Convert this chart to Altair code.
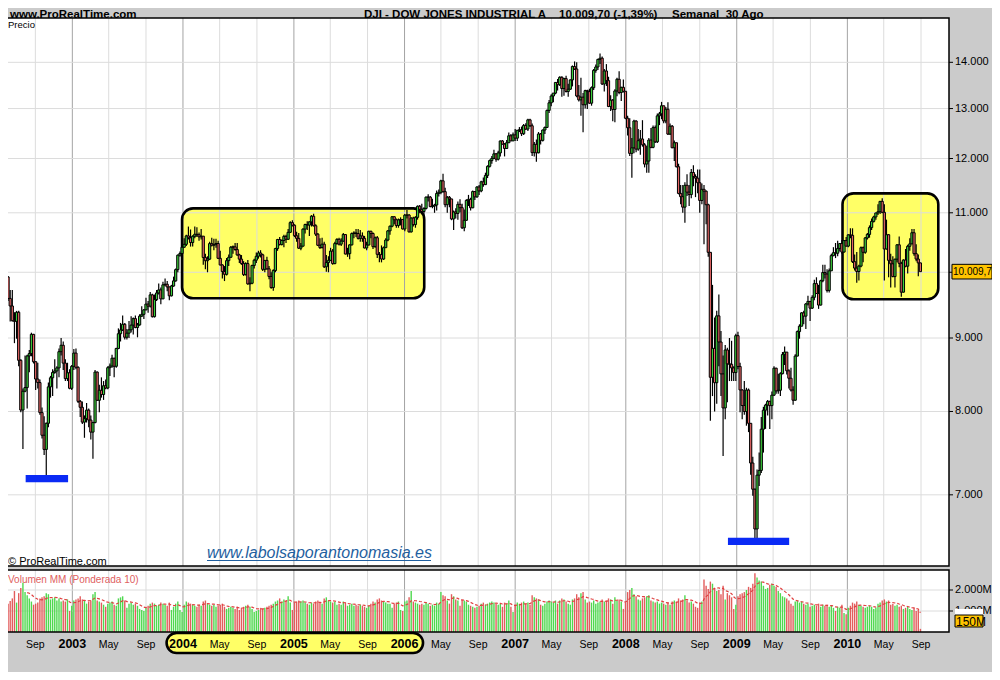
import altair as alt
import numpy as np
import pandas as pd

# Weekly DJI bars (week starting Monday), Jun 2002 - 30 Aug 2010
FIRST_OPEN = 9925

close = [
    # 2002
    9589, 9474, 9253, 9243, 9379, 8684, 8019, 8264, 8313, 8745, 8778, 9053, 8664, 8427, 8380, 7986,
    7701, 7528, 7850, 8322, 8444, 8517, 8537, 8579, 8805, 8896, 8645, 8433, 8512, 8303, 8601,
    # 2003
    8785, 8587, 8131, 8054, 7865, 7909, 8018, 7891, 7740, 7859, 8522, 8145, 8277, 8221, 8337, 8307,
    8582, 8604, 8713, 8601, 8850, 9062, 9117, 9200, 9011, 9070, 9119, 9188, 9284, 9153, 9191, 9321,
    9348, 9415, 9503, 9471, 9644, 9313, 9572, 9674, 9721, 9582, 9801, 9810, 9768, 9629, 9782, 9863,
    10042, 10278, 10305, 10409,
    # 2004
    10458, 10600, 10568, 10488, 10593, 10628, 10620, 10584, 10596, 10240, 10187, 10213, 10470, 10443,
    10452, 10472, 10226, 10118, 10013, 9967, 10188, 10243, 10410, 10416, 10371, 10282, 10213, 10140,
    9962, 10140, 9815, 9825, 10110, 10195, 10260, 10314, 10284, 10047, 10192, 10055, 9933, 9758,
    10027, 10387, 10539, 10456, 10522, 10592, 10543, 10661, 10828, 10783,
    # 2005
    10603, 10558, 10393, 10427, 10716, 10796, 10785, 10841, 10940, 10774, 10630, 10442, 10404, 10461,
    10088, 10157, 10193, 10345, 10140, 10471, 10542, 10460, 10512, 10623, 10297, 10303, 10449, 10640,
    10651, 10641, 10558, 10600, 10559, 10397, 10447, 10679, 10641, 10419, 10569, 10292, 10287, 10215,
    10402, 10530, 10686, 10766, 10931, 10878, 10778, 10876, 10883, 10718,
    # 2006
    10959, 10960, 10668, 10908, 10794, 10920, 11116, 11062, 11022, 11077, 11280, 11280, 11110, 11120,
    11138, 11347, 11367, 11578, 11380, 11144, 11278, 11247, 10892, 11015, 10989, 11150, 11091, 10739,
    10868, 11220, 11240, 11089, 11381, 11284, 11465, 11392, 11560, 11508, 11679, 11851, 11960, 12002,
    12090, 11986, 12108, 12342, 12280, 12194, 12307, 12445, 12343, 12463,
    # 2007
    12398, 12556, 12565, 12487, 12653, 12580, 12767, 12647, 12114, 12276, 12110, 12481, 12354, 12560,
    12612, 12961, 13120, 13264, 13326, 13556, 13507, 13668, 13424, 13639, 13360, 13409, 13611, 13907,
    13851, 13265, 13182, 13240, 13079, 13379, 13358, 13113, 13442, 13821, 13896, 14066, 14093, 13522,
    13807, 13595, 13042, 13177, 12981, 13372, 13625, 13339, 13450, 13366, 12800,
    # 2008
    12606, 12099, 12207, 12743, 12182, 12348, 12381, 12266, 11894, 11951, 12361, 12216, 12609, 12325,
    12849, 12891, 13058, 12745, 12986, 12479, 12638, 12209, 12307, 11843, 11347, 11288, 11100, 11496,
    11370, 11326, 11734, 11659, 11628, 11543, 11220, 11422, 11388, 11143, 10325, 8451, 8852, 8378,
    9325, 8943, 8497, 8046, 8829, 8635, 8629, 8579, 8515, 9034,
    # 2009
    8599, 8281, 8077, 8000, 8280, 7850, 7366, 7063, 6627, 7224, 7279, 7776, 8017, 8083, 8131, 8076,
    8212, 8575, 8268, 8277, 8500, 8764, 8799, 8539, 8438, 8280, 8146, 8743, 9093, 9172, 9370, 9321,
    9505, 9544, 9441, 9606, 9820, 9665, 9488, 9865, 9996, 9972, 9713, 10023, 10270, 10318, 10310,
    10389, 10471, 10329, 10521, 10428,
    # 2010
    10618, 10610, 10172, 10067, 10012, 10099, 10402, 10325, 10566, 10625, 10742, 10850, 10927, 10997,
    11019, 11204, 11009, 10380, 10620, 10193, 10137, 9931, 10212, 10450, 10144, 9686, 10198, 10098,
    10425, 10466, 10654, 10303, 10214, 10151, 10009.7,
]

high = [
    # 2002
    9940, 9720, 9720, 9380, 9400, 9400, 8700, 8300, 8750, 8760, 8830, 9077, 9060, 8670, 8650, 8420,
    8050, 7940, 7860, 8380, 8470, 8560, 8700, 8600, 8850, 9000, 8950, 8700, 8650, 8560, 8620,
    # 2003
    8842, 8850, 8600, 8150, 8130, 7950, 8110, 8040, 7950, 7870, 8550, 8530, 8350, 8450, 8400, 8420,
    8600, 8640, 8760, 8720, 8860, 9140, 9220, 9330, 9220, 9130, 9250, 9320, 9300, 9330, 9220, 9350,
    9470, 9430, 9600, 9550, 9690, 9660, 9650, 9720, 9820, 9760, 9850, 9900, 9860, 9770, 9800, 9930,
    10060, 10290, 10340, 10460,
    # 2004
    10560, 10620, 10760, 10710, 10610, 10760, 10750, 10660, 10720, 10600, 10300, 10260, 10500, 10570,
    10550, 10550, 10520, 10350, 10130, 10100, 10230, 10290, 10430, 10440, 10480, 10480, 10300, 10280,
    10180, 10160, 10200, 9920, 10120, 10220, 10320, 10350, 10360, 10300, 10200, 10250, 10100, 10000,
    10050, 10400, 10550, 10580, 10540, 10620, 10620, 10720, 10850, 10870,
    # 2005
    10800, 10670, 10650, 10480, 10730, 10810, 10850, 10850, 10960, 10985, 10800, 10650, 10560, 10570,
    10500, 10280, 10260, 10400, 10380, 10500, 10560, 10570, 10560, 10650, 10630, 10400, 10460, 10660,
    10680, 10720, 10720, 10700, 10660, 10600, 10500, 10690, 10690, 10660, 10590, 10600, 10330, 10440,
    10420, 10560, 10700, 10780, 10940, 10940, 10900, 10900, 10920, 10890,
    # 2006
    10980, 11050, 10980, 10920, 10930, 10940, 11130, 11140, 11160, 11100, 11290, 11330, 11300, 11250,
    11160, 11400, 11420, 11600, 11709, 11450, 11300, 11300, 11250, 11040, 11080, 11200, 11240, 11160,
    11060, 11240, 11320, 11270, 11400, 11390, 11480, 11500, 11580, 11640, 11730, 11870, 11980, 12050,
    12170, 12100, 12150, 12350, 12360, 12300, 12360, 12510, 12480, 12510,
    # 2007
    12580, 12560, 12620, 12630, 12680, 12700, 12790, 12790, 12690, 12320, 12370, 12520, 12500, 12570,
    12630, 12980, 13180, 13300, 13330, 13560, 13630, 13690, 13690, 13660, 13700, 13530, 13620, 13930,
    14020, 14000, 13500, 13660, 13330, 13400, 13400, 13420, 13470, 13850, 13950, 14080, 14198, 14130,
    13850, 13960, 13680, 13280, 13200, 13410, 13660, 13800, 13460, 13620, 13370,
    # 2008
    12850, 12800, 12400, 12770, 12760, 12580, 12560, 12760, 12300, 12250, 12400, 12600, 12650, 12650,
    12900, 12930, 13140, 13060, 13030, 13130, 12690, 12660, 12350, 12310, 11900, 11500, 11500, 11550,
    11700, 11500, 11800, 11870, 11700, 11790, 11790, 11530, 11500, 11400, 11160, 10330, 9800, 9300,
    9400, 9650, 9100, 8750, 8900, 8860, 9000, 8960, 8600, 9060,
    # 2009
    9090, 8650, 8290, 8400, 8310, 8300, 7850, 7440, 7070, 7290, 7490, 7930, 8060, 8100, 8150, 8140,
    8260, 8600, 8580, 8500, 8520, 8800, 8880, 8800, 8560, 8580, 8330, 8770, 9110, 9200, 9380, 9400,
    9520, 9630, 9550, 9640, 9880, 9920, 9800, 9880, 10120, 10120, 10050, 10060, 10300, 10410, 10480,
    10520, 10480, 10530, 10530, 10580,
    # 2010
    10630, 10730, 10730, 10290, 10330, 10120, 10420, 10420, 10580, 10650, 10780, 10900, 10950, 11000,
    11150, 11210, 11258, 11150, 10880, 10630, 10300, 10260, 10220, 10460, 10590, 10170, 10210, 10380,
    10450, 10560, 10720, 10720, 10460, 10290, 10155,
]

low = [
    # 2002
    9550, 9240, 9240, 8926, 8990, 8600, 7990, 7532, 8250, 8040, 8520, 8740, 8640, 8280, 8300, 7960,
    7660, 7460, 7197, 7800, 8180, 8200, 8500, 8300, 8450, 8750, 8550, 8400, 8400, 8290, 8280,
    # 2003
    8550, 8560, 8110, 7930, 7840, 7670, 7860, 7800, 7650, 7416, 7850, 8140, 7990, 8180, 8150, 8290,
    8290, 8470, 8580, 8450, 8580, 8840, 8950, 9100, 8980, 8980, 9000, 9080, 9050, 9140, 9010, 9180,
    9310, 9280, 9410, 9370, 9450, 9300, 9300, 9550, 9650, 9500, 9580, 9780, 9700, 9560, 9620, 9770,
    9850, 10000, 10250, 10300,
    # 2004
    10400, 10430, 10540, 10420, 10420, 10560, 10580, 10520, 10540, 10120, 10050, 10000, 10200, 10420,
    10360, 10400, 10220, 10110, 9900, 9860, 9950, 10100, 10240, 10300, 10350, 10270, 10150, 10120,
    9940, 9950, 9800, 9700, 9810, 10060, 10150, 10220, 10240, 10020, 10000, 10040, 9890, 9740,
    9708, 10000, 10350, 10440, 10440, 10410, 10480, 10530, 10650, 10760,
    # 2005
    10580, 10500, 10380, 10360, 10420, 10640, 10700, 10600, 10760, 10760, 10600, 10430, 10380, 10390,
    10070, 10010, 10000, 10180, 10120, 10130, 10450, 10440, 10430, 10500, 10290, 10250, 10210, 10440,
    10560, 10580, 10540, 10500, 10500, 10390, 10360, 10440, 10560, 10380, 10400, 10230, 10160, 10160,
    10200, 10400, 10510, 10620, 10750, 10800, 10740, 10740, 10780, 10710,
    # 2006
    10680, 10900, 10660, 10660, 10760, 10740, 10880, 10990, 10980, 10930, 11060, 11200, 11100, 11080,
    11000, 11040, 11290, 11330, 11360, 11100, 11000, 11100, 10870, 10700, 10900, 10880, 11010, 10720,
    10680, 10860, 11120, 11040, 11080, 11230, 11270, 11320, 11370, 11470, 11500, 11630, 11830, 11900,
    11990, 11940, 11960, 12040, 12270, 12040, 12190, 12300, 12340, 12340,
    # 2007
    12340, 12340, 12520, 12440, 12460, 12560, 12540, 12620, 12050, 12040, 11940, 12100, 12270, 12330,
    12480, 12610, 12910, 13050, 13130, 13300, 13380, 13480, 13250, 13270, 13340, 13250, 13400, 13470,
    13830, 13240, 13150, 12850, 12518, 13000, 12990, 13100, 13060, 13390, 13770, 13830, 13960, 13500,
    13360, 13480, 13030, 12950, 12740, 12720, 13260, 13300, 13160, 13340, 12780,
    # 2008
    12450, 12050, 11635, 12100, 12120, 12150, 12070, 12230, 11830, 11730, 11730, 12200, 12200, 12300,
    12300, 12660, 12780, 12700, 12700, 12460, 12460, 12200, 11950, 11830, 11330, 11150, 11000, 10827,
    11300, 11120, 11260, 11480, 11280, 11350, 11000, 11150, 10460, 10800, 10250, 7882, 8200, 8000,
    8100, 8600, 8200, 7450, 7900, 8120, 8400, 8400, 8400, 8400,
    # 2009
    8560, 7990, 7900, 7960, 7820, 7740, 7230, 6990, 6470, 6520, 7100, 7250, 7490, 7780, 7950, 7780,
    7900, 8200, 8230, 8230, 8200, 8490, 8620, 8490, 8300, 8260, 8087, 8140, 8740, 8990, 9170, 9200,
    9130, 9480, 9250, 9430, 9560, 9660, 9430, 9480, 9840, 9900, 9680, 9680, 10020, 10260, 10230,
    10260, 10340, 10300, 10320, 10420,
    # 2010
    10410, 10560, 10150, 10030, 9835, 9870, 10080, 10160, 10300, 10540, 10570, 10700, 10830, 10880,
    10960, 10980, 10990, 9870, 10370, 9920, 9760, 9920, 9757, 10160, 10080, 9614, 9680, 10080,
    9980, 10350, 10460, 10270, 10180, 9936, 10009,
]

# weekly volume, millions of shares
volume = [
    # 2002
    1350, 1480, 1600, 1950, 1400, 1850, 2100, 2350, 1900, 1750, 1600, 1450, 1300, 1350, 1400, 1600,
    1650, 1700, 1850, 1800, 1550, 1600, 1650, 1500, 1600, 1450, 1500, 1450, 1550, 1000, 1250,
    # 2003
    1500, 1550, 1600, 1700, 1550, 1500, 1350, 1450, 1500, 1800, 1900, 1500, 1450, 1400, 1300, 1200,
    1350, 1400, 1450, 1300, 1250, 1600, 1650, 1700, 1500, 1150, 1350, 1400, 1300, 1350, 1250, 1100,
    1050, 1000, 1150, 1250, 1350, 1400, 1350, 1250, 1300, 1400, 1350, 1300, 1250, 1400, 1050, 1200,
    1350, 1450, 1050, 950,
    # 2004
    1300, 1450, 1400, 1350, 1300, 1250, 1200, 1300, 1250, 1450, 1500, 1350, 1300, 1250, 1300, 1200,
    1250, 1300, 1350, 1200, 1100, 1150, 1200, 1150, 1100, 1200, 1050, 1150, 1200, 1250, 1300, 1200,
    1100, 950, 1000, 1050, 1150, 1100, 1150, 1200, 1250, 1300, 1350, 1450, 1500, 1600, 1450, 1550,
    1500, 1700, 1400, 1050,
    # 2005
    1400, 1450, 1500, 1450, 1500, 1400, 1350, 1300, 1400, 1350, 1450, 1500, 1400, 1350, 1600, 1650,
    1500, 1450, 1400, 1450, 1300, 1350, 1300, 1450, 1400, 1250, 1300, 1350, 1250, 1300, 1250, 1300,
    1250, 1200, 1150, 1250, 1350, 1450, 1400, 1550, 1600, 1500, 1450, 1400, 1350, 1350, 1150, 1350,
    1400, 1450, 1050, 1000,
    # 2006
    1450, 1500, 1650, 1950, 1450, 1400, 1350, 1300, 1350, 1300, 1400, 1350, 1250, 1300, 1250, 1400,
    1350, 1900, 1750, 1700, 1500, 1350, 1800, 1700, 1550, 1500, 1250, 1550, 1500, 1450, 1300, 1250,
    1200, 1150, 1200, 1250, 1350, 1400, 1300, 1350, 1400, 1450, 1400, 1350, 1300, 1350, 1200, 1400,
    1350, 1500, 1200, 950,
    # 2007
    1300, 1400, 1350, 1400, 1450, 1350, 1400, 1300, 1750, 1650, 1600, 1550, 1300, 1250, 1350, 1450,
    1500, 1450, 1400, 1500, 1350, 1500, 1600, 1550, 1450, 1350, 1300, 1550, 1600, 1800, 1650, 1850,
    1900, 1550, 1400, 1450, 1400, 1500, 1350, 1400, 1450, 1550, 1450, 1500, 1600, 1550, 1350, 1650,
    1500, 1550, 1450, 1100, 1400,
    # 2008
    1900, 2000, 2100, 1800, 1700, 1550, 1500, 1600, 1650, 1700, 1750, 1500, 1450, 1400, 1450, 1350,
    1400, 1350, 1300, 1400, 1300, 1450, 1500, 1450, 1600, 1500, 1550, 1750, 1500, 1400, 1450, 1350,
    1200, 1150, 1400, 1450, 2500, 2200, 2050, 2400, 2300, 2100, 1950, 2000, 1800, 2200, 1550, 1850,
    1750, 1650, 1100, 1300,
    # 2009
    1700, 1800, 1850, 1900, 2000, 2150, 2100, 2300, 2800, 2600, 2450, 2400, 2200, 2050, 2100, 2250,
    2300, 2200, 2150, 1950, 1850, 1700, 1650, 1600, 1500, 1350, 1250, 1450, 1500, 1400, 1450, 1350,
    1300, 1350, 1200, 1250, 1300, 1250, 1350, 1200, 1300, 1250, 1300, 1200, 1250, 1150, 1000, 1200,
    1150, 1300, 900, 850,
    # 2010
    1150, 1250, 1400, 1350, 1450, 1300, 1250, 1200, 1150, 1200, 1250, 1200, 1100, 1150, 1350, 1400,
    1500, 1550, 1450, 1500, 1300, 1350, 1250, 1300, 1200, 1250, 1100, 1150, 1200, 1100, 1050, 1150,
    1000, 1050, 150,
]

PRICE_TICKS = [7000, 8000, 9000, 10000, 11000, 12000, 13000, 14000]
VOLUME_TICKS = [1000, 2000]
MONTH_NAMES = {5: "May", 9: "Sep"}

# yellow highlight boxes: start, end, bottom price, top price
boxes = [
    ("2003-12-29", "2006-03-07", 9591, 11078),
    ("2009-12-16", "2010-10-28", 9576, 11348),
]
# blue marks under the two lows
lows_marks = [
    ("2002-07-31", "2002-12-18", 7143, 7226),
    ("2008-12-03", "2009-06-23", 6458, 6535),
]
AXIS_PILL = ("2003-11-08", "2006-03-03")

GREEN = "#3ccf3c"
RED = "#e26464"
FONT = "Liberation Sans"

# ---------------------------------------------------------------
weeks = pd.date_range("2002-06-03", periods=len(close), freq="W-MON")
opens = [FIRST_OPEN] + close[:-1]
df = pd.DataFrame({
    "date": weeks.strftime("%Y-%m-%d"),
    "open": opens,
    "close": close,
    "high": high,
    "low": low,
    "volume": volume,
})
df["high"] = df[["high", "open", "close"]].max(axis=1)
df["low"] = df[["low", "open", "close"]].min(axis=1)

# weighted 10-week moving average of volume
w = np.arange(1, 11)
vol = np.array(volume, dtype=float)
df["wma"] = [np.nan] * 9 + [float(np.dot(vol[i - 9:i + 1], w) / w.sum()) for i in range(9, len(vol))]

tick_dates = pd.date_range("2002-09-01", "2010-09-01", freq="4MS")
ticks = pd.DataFrame({
    "date": tick_dates.strftime("%Y-%m-%d"),
    "label": [str(d.year) if d.month == 1 else MONTH_NAMES[d.month] for d in tick_dates],
    "year": [d.month == 1 for d in tick_dates],
})

box_df = pd.DataFrame(boxes, columns=["start", "end", "bottom", "top"])
lows_df = pd.DataFrame(lows_marks, columns=["start", "end", "bottom", "top"])
price_df = pd.DataFrame({"p": PRICE_TICKS, "label": [f"{p:,}".replace(",", ".") for p in PRICE_TICKS]})
# the 10.000 label sits under the last-price flag
price_lbl = price_df[price_df["p"] != 10000]
vol_df = pd.DataFrame({"v": VOLUME_TICKS, "label": [f"{v:,}M".replace(",", ".") for v in VOLUME_TICKS]})
last = df.iloc[-1]
last_df = pd.DataFrame({"p": [last["close"]], "top": [last["close"] * 1.0118],
                        "bottom": [last["close"] / 1.0118], "label": ["10.009,7"]})
one = pd.DataFrame({"k": [0]})

# page offset is 8px, so chart px = reference px - 8
X_SCALE = alt.Scale(type="utc", nice=False, padding=0, range=[-46.3, 950.0],
                    domain=[alt.DateTime(year=2002, month=1, date=1, utc=True),
                            alt.DateTime(year=2011, month=1, date=1, utc=True)])
Y_PRICE = alt.Scale(type="log", domain=[6000, 16000], range=[583.0, -29.0], nice=False, padding=0)
Y_VOL = alt.Scale(domain=[0, 3000], range=[624, 561], nice=False, padding=0)


def xd(field="date"):
    return alt.X(f"{field}:T", scale=X_SCALE, axis=None)


def yp(field):
    return alt.Y(f"{field}:Q", scale=Y_PRICE, axis=None)


def yv(field):
    return alt.Y(f"{field}:Q", scale=Y_VOL, axis=None)


up = "datum.close >= datum.open"
PANELS = [(10, 558), (562, 624)]

layers = []

# panels
for top, bottom in PANELS:
    layers.append(alt.Chart(one).mark_rect(fill="white").encode(
        x=alt.value(-5), x2=alt.value(941), y=alt.value(top), y2=alt.value(bottom)))

# highlight fills
layers.append(alt.Chart(box_df).mark_rect(fill="#ffff66", cornerRadius=11).encode(
    x=xd("start"), x2="end:T", y=yp("bottom"), y2="top:Q"))

# grids
months = ticks[~ticks["year"]]
years = ticks[ticks["year"]]
for top, bottom in PANELS:
    layers.append(alt.Chart(months).mark_rule(color="#dcdcdc", strokeWidth=1).encode(
        x=xd(), y=alt.value(top), y2=alt.value(bottom)))
    layers.append(alt.Chart(years).mark_rule(color="#a4a4a4", strokeWidth=1).encode(
        x=xd(), y=alt.value(top), y2=alt.value(bottom)))
layers.append(alt.Chart(price_df).mark_rule(color="#dcdcdc", strokeWidth=1).encode(
    y=yp("p"), x=alt.value(-5), x2=alt.value(941)))
layers.append(alt.Chart(vol_df).mark_rule(color="#dcdcdc", strokeWidth=1).encode(
    y=yv("v"), x=alt.value(-5), x2=alt.value(941)))

# highlight outlines
layers.append(alt.Chart(box_df).mark_rect(fillOpacity=0, stroke="black", strokeWidth=2.6, cornerRadius=11).encode(
    x=xd("start"), x2="end:T", y=yp("bottom"), y2="top:Q"))

# candles
layers.append(alt.Chart(df).mark_rule(color="black", strokeWidth=1.2).encode(
    x=xd(), y=yp("low"), y2="high:Q"))
layers.append(alt.Chart(df).mark_bar(width=2.2, stroke="black", strokeWidth=1).encode(
    x=xd(), y=yp("open"), y2="close:Q",
    fill=alt.condition(up, alt.value(GREEN), alt.value(RED))))

# lows marks
layers.append(alt.Chart(lows_df).mark_rect(fill="#0a2af5").encode(
    x=xd("start"), x2="end:T", y=yp("bottom"), y2="top:Q"))

# volume
layers.append(alt.Chart(df).mark_bar(width=1.4).encode(
    x=xd(), y=yv("volume"),
    color=alt.condition(up, alt.value("#4fd84f"), alt.value("#e25c5c"))))
layers.append(alt.Chart(df.dropna(subset=["wma"])).mark_line(
    color="#e04040", strokeDash=[3, 2], strokeWidth=1.2).encode(x=xd(), y=yv("wma")))

# panel borders
for top, bottom in PANELS:
    layers.append(alt.Chart(one).mark_rect(fillOpacity=0, stroke="black", strokeWidth=1.5).encode(
        x=alt.value(-5), x2=alt.value(941), y=alt.value(top), y2=alt.value(bottom)))

# right axes
layers.append(alt.Chart(price_df).mark_rule(color="black").encode(
    y=yp("p"), x=alt.value(941), x2=alt.value(945)))
layers.append(alt.Chart(price_lbl).mark_text(align="left", baseline="middle", font=FONT, fontSize=11).encode(
    y=yp("p"), x=alt.value(947), text="label:N"))
layers.append(alt.Chart(vol_df).mark_rule(color="black").encode(
    y=yv("v"), x=alt.value(941), x2=alt.value(945)))
layers.append(alt.Chart(vol_df).mark_text(align="left", baseline="middle", font=FONT, fontSize=11).encode(
    y=yv("v"), x=alt.value(947), text="label:N"))

# last price flag
layers.append(alt.Chart(last_df).mark_rect(fill="#ffc400", stroke="black", strokeWidth=1).encode(
    x=alt.value(944), x2=alt.value(984), y=yp("bottom"), y2="top:Q"))
layers.append(alt.Chart(last_df).mark_text(align="left", baseline="middle", font=FONT, fontSize=10).encode(
    x=alt.value(945), y=yp("p"), text="label:N"))

# last volume / average flags
layers.append(alt.Chart(one).mark_rect(fill="white").encode(
    x=alt.value(947), x2=alt.value(975), y=alt.value(601), y2=alt.value(607)))
layers.append(alt.Chart(one).mark_rect(fill="#ffc400", stroke="black", strokeWidth=1).encode(
    x=alt.value(947), x2=alt.value(975), y=alt.value(607), y2=alt.value(619)))
layers.append(alt.Chart(one).mark_text(text="150M", align="left", baseline="middle", font=FONT,
                                       fontSize=12).encode(x=alt.value(948), y=alt.value(613.5)))

# bottom axis
pill = pd.DataFrame({"start": [AXIS_PILL[0]], "end": [AXIS_PILL[1]]})
layers.append(alt.Chart(pill).mark_rect(fill="#ffff66", stroke="black", strokeWidth=2.6, cornerRadius=10).encode(
    x=xd("start"), x2="end:T", y=alt.value(625), y2=alt.value(645)))
layers.append(alt.Chart(months).mark_text(baseline="alphabetic", font=FONT, fontSize=10.5).encode(
    x=xd(), y=alt.value(640), text="label:N"))
layers.append(alt.Chart(years).mark_text(baseline="alphabetic", font=FONT, fontSize=12.5, fontWeight="bold").encode(
    x=xd(), y=alt.value(640), text="label:N"))


def label(text, x, y, **kw):
    return alt.Chart(one).mark_text(text=text, align="left", baseline="alphabetic", font=FONT, **kw).encode(
        x=alt.value(x), y=alt.value(y))


layers += [
    label("www.ProRealTime.com", 2, 9.5, fontSize=11.5, fontWeight="bold"),
    label("DJI - DOW JONES INDUSTRIAL A", 356, 9.5, fontSize=11.5, fontWeight="bold"),
    label("10.009,70 (-1,39%)", 551, 9.5, fontSize=11.5, fontWeight="bold"),
    label("Semanal\u00a0\u00a030 Ago", 664, 9.5, fontSize=11.5, fontWeight="bold"),
    label("Precio", 0, 20, fontSize=9.5),
    label("\u00a9 ProRealTime.com", 0, 557, fontSize=11),
    label("www.labolsaporantonomasia.es", 199, 550, fontSize=16, fontStyle="italic", color="#1f5fa0"),
    label("Volumen MM (Ponderada 10)", 0, 575, fontSize=10, color="#e06060"),
]
layers.append(alt.Chart(one).mark_rule(color="#1f5fa0", strokeWidth=1).encode(
    x=alt.value(199), x2=alt.value(423), y=alt.value(552.5)))

# 984 x 664 keeps the page inside the 1000 x 680 window (8px body margin)
chart = (
    alt.layer(*layers)
    .resolve_scale(y="independent")
    .properties(width=984, height=664, autosize="none", padding=0, background="#cbcbcb")
    .configure_view(stroke=None)
)

chart.save("out.html", embed_options={"renderer": "svg", "actions": False})
